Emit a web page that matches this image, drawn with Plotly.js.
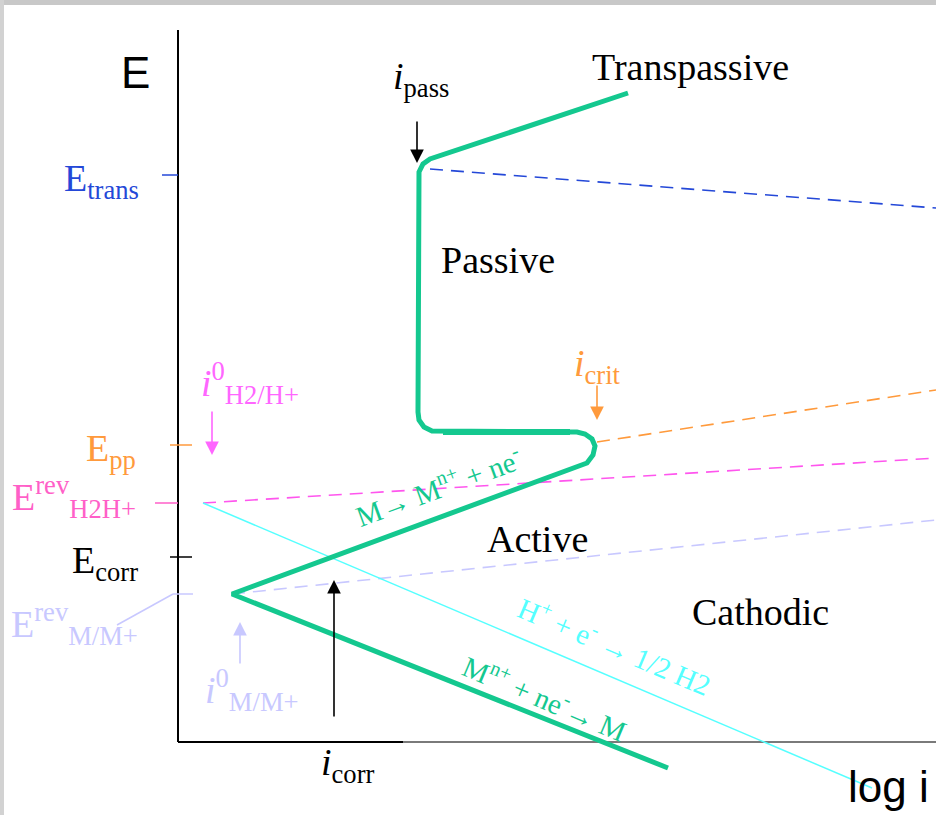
<!DOCTYPE html>
<html>
<head>
<meta charset="utf-8">
<script src="https://cdn.plot.ly/plotly-3.0.1.min.js"></script>
<style>
  html, body { margin: 0; padding: 0; background: #ffffff; }
  #chart { width: 936px; height: 815px; }
</style>
</head>
<body>
<div id="chart"></div>
<script>
// Schematic polarization diagram of a passivating metal (E versus log i, arbitrary units)

// Characteristic potentials
const E_trans = 5.67;
const E_pp = 2.97;
const E_revH = 2.39;
const E_corr = 1.85;
const E_revM = 1.48;

// Characteristic log-current positions
const logI_0H = 0.25;
const logI_0M = 0.54;
const logI_corr = 1.56;
const logI_pass = 2.40;
const logI_crit = 4.19;

// Axis extents
const axisE = [0, 7.12];
const axisLogIdark = [0, 2.25];
const axisLogIlight = [2.25, 7.58];

// Metal curve: cathodic branch, active branch, active-passive nose, passive plateau, transpassive
const metalX = [4.90, logI_0M, 4.09, 4.15, 4.17, 4.14, 4.07, 3.99, 3.92, 2.65, 2.54, 2.46, 2.41, logI_pass, logI_pass, 2.41, 2.45, 2.52, 4.50];
const metalE = [-0.26, E_revM, 2.79, 2.87, 2.96, 3.03, 3.08, 3.10, 3.10, 3.10, 3.11, 3.15, 3.22, 3.30, 5.60, 5.70, 5.78, 5.83, 6.49];
// Thicker plateau segment at the bottom of the passive region
const plateauX = [2.65, 3.92];
const plateauE = [3.10, 3.10];

// Hydrogen reaction (cathodic) line
const hydX = [logI_0H, 6.94];
const hydE = [E_revH, -0.46];

// Extrapolated (dashed) Tafel lines
const transDashX = [2.52, 7.58];
const transDashE = [5.73, 5.34];
const critDashX = [logI_crit, 7.58];
const critDashE = [3.00, 3.52];
const hydDashX = [logI_0H, 7.58];
const hydDashE = [E_revH, 2.84];
const metalDashX = [logI_0M, 7.58];
const metalDashE = [E_revM, 2.22];

// Potential tick marks on the E axis
const tickTransX = [-0.16, 0];
const tickPpX = [-0.08, 0.14];
const tickRevHX = [-0.23, 0];
const tickCorrX = [-0.08, 0.14];
const tickRevMX = [-0.05, 0.15];
const leaderRevMX = [-0.61, -0.05];
const leaderRevME = [1.17, E_revM];

// Colours
const cMetal = '#14c88f';
const cHyd = '#55ffff';
const cTrans = '#2448d8';
const cPp = '#ff9a3c';
const cRevH = '#ff5fc8';
const cHydDash = '#ff55ee';
const cI0H = '#ff66ff';
const cRevM = '#c8c8ff';

const serif = 'Liberation Serif, Times New Roman, serif';
const sans = 'Liberation Sans, Arial, sans-serif';

function seg(x, y, color, width, dash) {
  return {
    x: x, y: y, type: 'scatter', mode: 'lines', hoverinfo: 'skip',
    line: { color: color, width: width, dash: dash || 'solid' }
  };
}

const traces = [
  seg(axisE.map(() => 0), axisE, '#000000', 2),
  seg(axisLogIdark, [0, 0], '#000000', 2),
  seg(axisLogIlight, [0, 0], '#7a7a7a', 2),
  seg(tickTransX, [E_trans, E_trans], cTrans, 1.5),
  seg(tickPpX, [E_pp, E_pp], cPp, 1.5),
  seg(tickRevHX, [E_revH, E_revH], cRevH, 1.5),
  seg(tickCorrX, [E_corr, E_corr], '#000000', 1.5),
  seg(tickRevMX, [E_revM, E_revM], cRevM, 1.5),
  seg(leaderRevMX, leaderRevME, cRevM, 1.5),
  seg(transDashX, transDashE, cTrans, 1.6, '13px,8px'),
  seg(critDashX, critDashE, cPp, 1.6, '13px,8px'),
  seg(hydDashX, hydDashE, cHydDash, 1.6, '13px,8px'),
  seg(metalDashX, metalDashE, cRevM, 1.6, '13px,8px'),
  seg(hydX, hydE, cHyd, 1.5),
  seg(metalX, metalE, cMetal, 5),
  seg(plateauX, plateauE, cMetal, 6)
];

function label(x, y, text, size, color, opts) {
  return Object.assign({
    x: x, y: y, xref: 'x', yref: 'y', text: text, showarrow: false,
    font: { family: serif, size: size, color: color }
  }, opts || {});
}

function arrow(x, yHead, yTail, color) {
  return {
    x: x, y: yHead, ax: x, ay: yTail, xref: 'x', yref: 'y', axref: 'x', ayref: 'y',
    text: '', showarrow: true, arrowhead: 2, arrowsize: 1.7, arrowwidth: 1.6, arrowcolor: color
  };
}

const annotations = [
  // axis names
  label(-0.43, 6.70, 'E', 44, '#000000', { font: { family: sans, size: 44, color: '#000000' } }),
  label(7.10, -0.44, 'log i', 44, '#000000', { font: { family: sans, size: 44, color: '#000000' } }),
  // potential labels
  label(-0.37, E_trans, 'E<sub>trans</sub>', 38, cTrans, { xanchor: 'right', yshift: -6 }),
  label(-0.40, E_pp, 'E<sub>pp</sub>', 38, cPp, { xanchor: 'right', yshift: -6 }),
  label(-0.40, E_revH, 'E<sup>rev</sup><sub>H2H+</sub>', 38, cRevH, { xanchor: 'right', yshift: 6 }),
  label(-0.38, E_corr, 'E<sub>corr</sub>', 38, '#000000', { xanchor: 'right', yshift: -6 }),
  label(-0.38, E_revM, 'E<sup>rev</sup><sub>M/M+</sub>', 38, cRevM, { xanchor: 'right', yshift: -30 }),
  // region names
  label(5.12, 6.75, 'Transpassive', 38, '#000000'),
  label(3.20, 4.82, 'Passive', 38, '#000000'),
  label(3.59, 2.03, 'Active', 38, '#000000'),
  label(5.82, 1.30, 'Cathodic', 38, '#000000'),
  // current labels
  label(2.43, 6.63, '<i>i</i><sub>pass</sub>', 38, '#000000'),
  label(logI_crit, 3.76, '<i>i</i><sub>crit</sub>', 38, cPp),
  label(1.70, -0.23, '<i>i</i><sub>corr</sub>', 38, '#000000'),
  label(0.72, 3.59, '<i>i</i><sup>0</sup><sub>H2/H+</sub>', 38, cI0H),
  label(0.74, 0.52, '<i>i</i><sup>0</sup><sub>M/M+</sub>', 38, cRevM),
  // reactions along the lines
  label(2.60, 2.56, 'M\u2192 M<sup>n+</sup> + ne<sup>-</sup>', 29, cMetal, { textangle: -20 }),
  label(4.37, 0.97, 'H<sup>+</sup> + e<sup>-</sup> \u2192 1/2 H2', 29, cHyd, { textangle: 23 }),
  label(3.67, 0.45, 'M<sup>n+</sup> + ne<sup>-</sup>\u2192 M', 29, cMetal, { textangle: 23 }),
  // pointer arrows
  arrow(logI_pass - 0.01, 5.79, 6.22, '#000000'),
  arrow(logI_crit, 3.22, 3.58, cPp),
  arrow(logI_corr, 1.62, 0.24, '#000000'),
  arrow(0.62, 1.20, 0.77, cRevM),
  arrow(0.34, 2.87, 3.32, cI0H)
];

// Grey slide frame around the drawing
const shapes = [
  { type: 'rect', xref: 'paper', yref: 'paper', x0: 0, x1: 1, y0: 1 - 5 / 815, y1: 1,
    fillcolor: '#c8c8c8', line: { width: 0 }, layer: 'below' },
  { type: 'rect', xref: 'paper', yref: 'paper', x0: 0, x1: 4 / 936, y0: 0, y1: 1,
    fillcolor: '#d2d2d2', line: { width: 0 }, layer: 'below' }
];

const layout = {
  width: 936, height: 815,
  margin: { l: 0, r: 0, t: 0, b: 0 },
  paper_bgcolor: '#ffffff', plot_bgcolor: '#ffffff',
  showlegend: false,
  xaxis: { range: [-1.78, 7.58], visible: false, fixedrange: true },
  yaxis: { range: [-0.73, 7.42], visible: false, fixedrange: true },
  annotations: annotations,
  shapes: shapes
};

Plotly.newPlot('chart', traces, layout, { staticPlot: true, displayModeBar: false });
</script>
</body>
</html>
